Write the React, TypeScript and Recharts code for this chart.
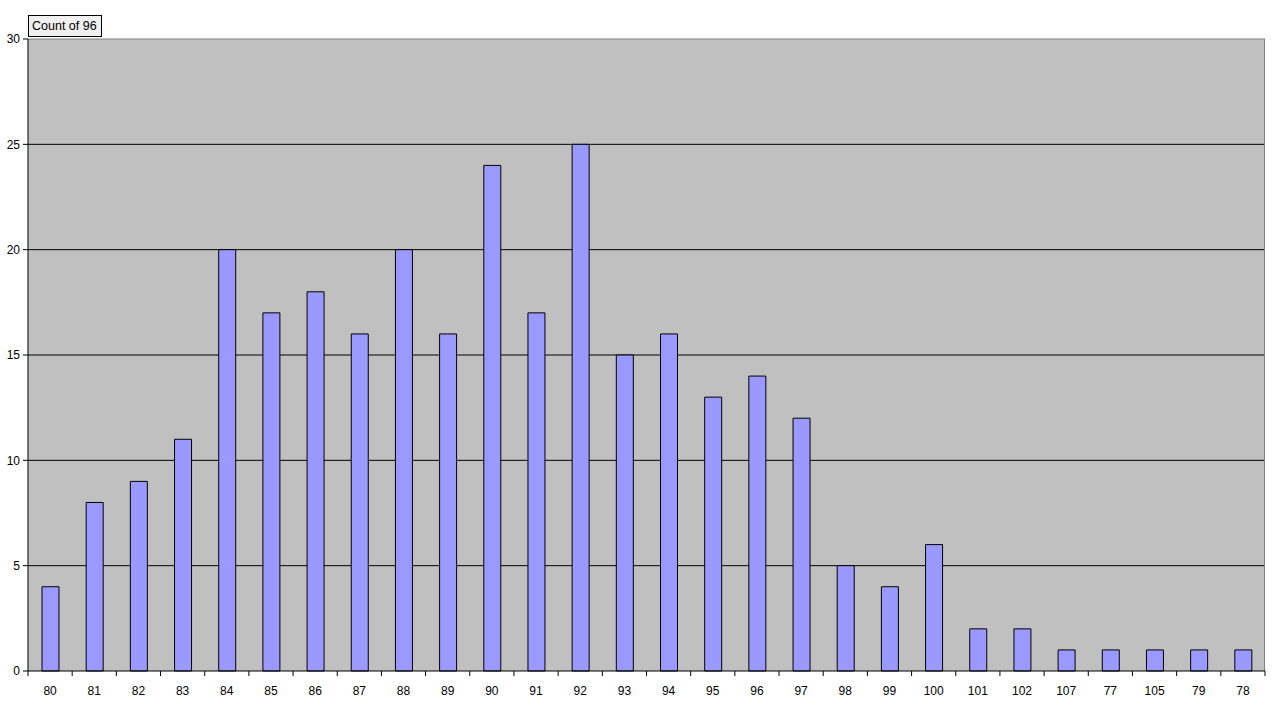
import { BarChart, Bar, XAxis, YAxis, CartesianGrid } from 'recharts'

const categories = ['80', '81', '82', '83', '84', '85', '86', '87', '88', '89', '90', '91', '92', '93', '94', '95', '96', '97', '98', '99', '100', '101', '102', '107', '77', '105', '79', '78']
const counts = [4, 8, 9, 11, 20, 17, 18, 16, 20, 16, 24, 17, 25, 15, 16, 13, 14, 12, 5, 4, 6, 2, 2, 1, 1, 1, 1, 1]
const yTicks = [0, 5, 10, 15, 20, 25, 30]

const data = categories.map((c, i) => ({ name: c, count: counts[i] }))

const W = 1274
const H = 708
const LEFT = 28
const RIGHT = 1265
const TOP = 39
const BOTTOM = 671
const band = (RIGHT - LEFT) / categories.length

const font = '"Liberation Sans", Arial, sans-serif'

function XTick(props: any) {
  const { x, y, payload, index } = props
  return (
    <g>
      <line x1={x - band / 2} x2={x - band / 2} y1={y} y2={y + 5} stroke="#000" />
      {index === categories.length - 1 && (
        <line x1={x + band / 2} x2={x + band / 2} y1={y} y2={y + 5} stroke="#000" />
      )}
      <text x={x} y={y + 24} textAnchor="middle" fontSize={12} fontFamily={font} fill="#000">
        {payload.value}
      </text>
    </g>
  )
}

export default function App() {
  return (
    <div style={{ position: 'absolute', left: 0, top: 0, width: W, height: H, background: '#fff' }}>
      <BarChart
        width={W}
        height={H}
        data={data}
        margin={{ top: TOP, right: W - RIGHT, bottom: 0, left: 0 }}
        barSize={17}
      >
        <CartesianGrid
          fill="#C0C0C0"
          stroke="#000"
          vertical={false}
          horizontalValues={[5, 10, 15, 20, 25]}
        />
        <CartesianGrid
          stroke="#808080"
          horizontalPoints={[TOP]}
          verticalPoints={[RIGHT - 0.5]}
        />
        <XAxis
          dataKey="name"
          height={H - BOTTOM}
          axisLine={{ stroke: '#000' }}
          tickLine={false}
          tickSize={0}
          tickMargin={0}
          interval={0}
          tick={<XTick />}
        />
        <YAxis
          width={LEFT}
          domain={[0, 30]}
          ticks={yTicks}
          interval={0}
          axisLine={{ stroke: '#000' }}
          tickLine={{ stroke: '#000' }}
          tickSize={5}
          tickMargin={3}
          tick={{ fontSize: 12, fontFamily: font, fill: '#000' }}
        />
        <Bar dataKey="count" fill="#9999FF" stroke="#000" strokeWidth={1} isAnimationActive={false} />
      </BarChart>
      <div
        style={{
          position: 'absolute',
          left: 28,
          top: 15,
          height: 20,
          padding: '0 4px 0 3px',
          lineHeight: '20px',
          border: '1px solid #000',
          background: '#F0F0F0',
          fontFamily: font,
          fontSize: 12.5,
          color: '#000',
        }}
      >
        Count of 96
      </div>
    </div>
  )
}
